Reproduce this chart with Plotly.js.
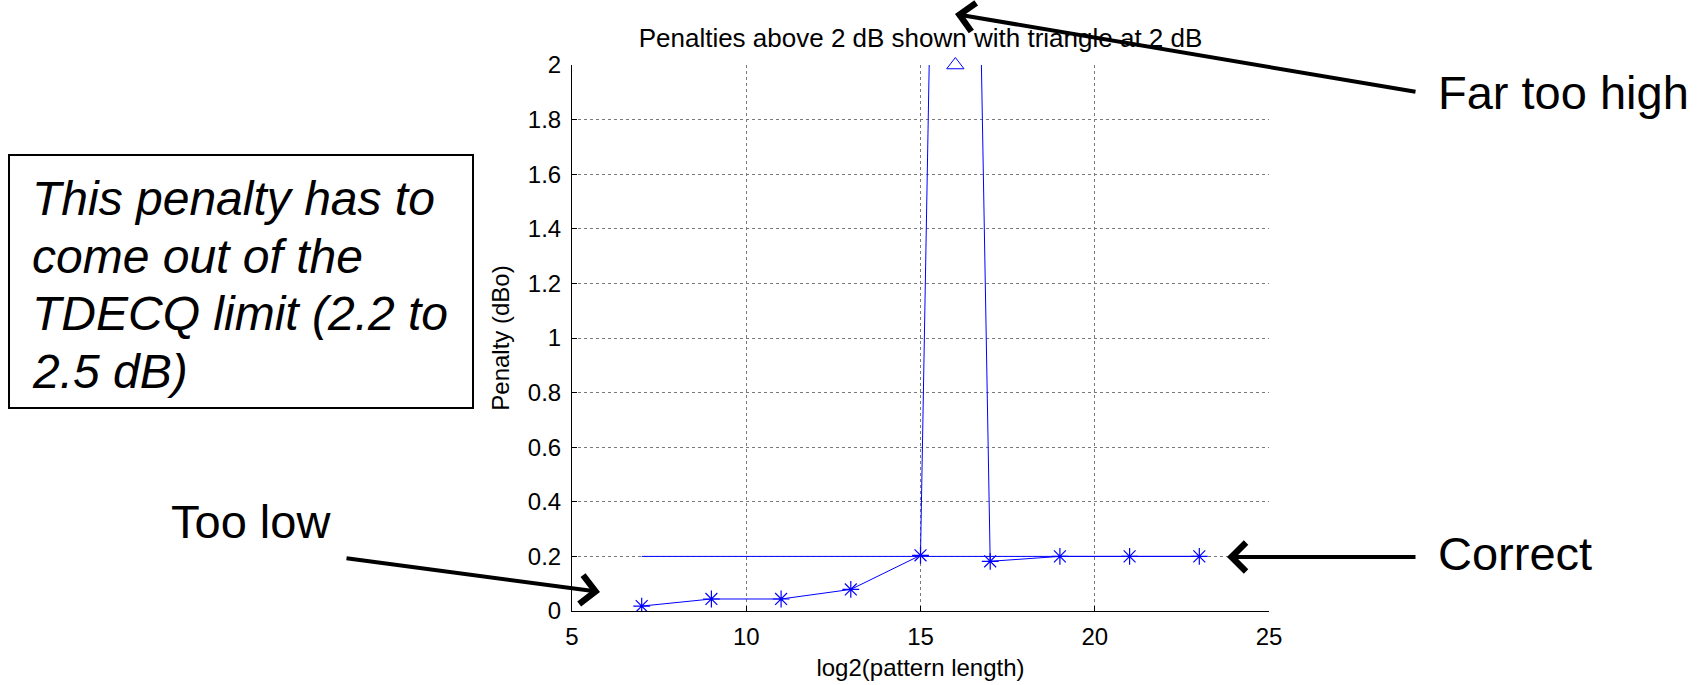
<!DOCTYPE html>
<html>
<head>
<meta charset="utf-8">
<script src="https://cdn.plot.ly/plotly-3.0.1.min.js"></script>
<style>
  html, body { margin: 0; padding: 0; background: #ffffff; }
  #chart { width: 1705px; height: 685px; }
</style>
</head>
<body>
<div id="chart"></div>
<script>
// ---- data ----
const patternLog2 = [7, 9, 11, 13, 15, 16, 17, 19, 21, 23];
const penaltyDb   = [0.018, 0.044, 0.044, 0.079, 0.204, 7.4, 0.182, 0.2, 0.2, 0.2];
const correctX    = [7, 23];
const correctY    = [0.2, 0.2];
const capDb       = 2;
const xTicks      = [5, 10, 15, 20, 25];
const yTicks      = [0, 0.2, 0.4, 0.6, 0.8, 1, 1.2, 1.4, 1.6, 1.8, 2];

// ---- layout geometry ----
const W = 1705, H = 685;
const L = 572, R = 1269, T = 65, B = 611;
const px = v => (v - L) / (R - L);
const py = v => (B - v) / (B - T);

const blue = '#0000ff';
const font = 'Liberation Sans, Arial, sans-serif';

const okX = [], okY = [], capX = [], capY = [];
patternLog2.forEach((v, i) => {
  if (penaltyDb[i] <= capDb) { okX.push(v); okY.push(penaltyDb[i]); }
  else { capX.push(v); capY.push(capDb); }
});

const traces = [
  { x: correctX, y: correctY, mode: 'lines', type: 'scatter',
    line: { color: blue, width: 1 }, hoverinfo: 'skip' },
  { x: patternLog2, y: penaltyDb, mode: 'lines', type: 'scatter',
    line: { color: blue, width: 1 } },
  { x: okX, y: okY, mode: 'markers', type: 'scatter',
    marker: { symbol: 'asterisk-open', size: 14, color: blue, line: { color: blue, width: 1.2 } } },
  { x: capX, y: capY, mode: 'markers', type: 'scatter', cliponaxis: false,
    marker: { symbol: 'triangle-up-open', size: 15, color: blue, line: { color: blue, width: 1 } } }
];

function label(text, xLeft, yMid, size, italic) {
  return { xref: 'paper', yref: 'paper', x: px(xLeft), y: py(yMid),
    xanchor: 'left', yanchor: 'middle', showarrow: false, text: text, align: 'left',
    font: { family: font, size: size, color: '#000000', style: italic ? 'italic' : 'normal' } };
}
function arrow(tipX, tipY, tailX, tailY) {
  return { xref: 'paper', yref: 'paper', x: px(tipX), y: py(tipY),
    ax: tailX - tipX, ay: tailY - tipY, axref: 'pixel', ayref: 'pixel',
    text: '', showarrow: true, arrowhead: 4, arrowsize: 1.4, arrowwidth: 4,
    arrowcolor: '#000000', standoff: 0, startstandoff: 0 };
}

const layout = {
  width: W, height: H, autosize: false,
  margin: { l: L, r: W - R, t: T, b: H - B, pad: 0 },
  paper_bgcolor: '#ffffff', plot_bgcolor: '#ffffff',
  showlegend: false,
  font: { family: font, color: '#000000' },
  title: { text: 'Penalties above 2 dB shown with triangle at 2 dB',
    font: { family: font, size: 26, color: '#000000' },
    x: px(920.5), xref: 'paper', xanchor: 'center',
    y: 1 - 38 / H, yref: 'container', yanchor: 'middle' },
  xaxis: {
    range: [5, 25], tickvals: xTicks, ticktext: xTicks.map(String),
    showgrid: true, gridcolor: '#7a7a7a', griddash: 'dot', gridwidth: 1,
    showline: true, linecolor: '#000000', linewidth: 1, mirror: false,
    ticks: 'inside', ticklen: 5, tickcolor: '#000000', tickwidth: 1,
    zeroline: false, ticklabelstandoff: 4,
    tickfont: { family: font, size: 24, color: '#000000' },
    title: { text: 'log2(pattern length)', standoff: 10,
      font: { family: font, size: 24, color: '#000000' } }
  },
  yaxis: {
    range: [0, 2], tickvals: yTicks, ticktext: yTicks.map(String),
    showgrid: true, gridcolor: '#7a7a7a', griddash: 'dot', gridwidth: 1,
    showline: true, linecolor: '#000000', linewidth: 1, mirror: false,
    ticks: 'inside', ticklen: 5, tickcolor: '#000000', tickwidth: 1,
    zeroline: false, ticklabelstandoff: 5,
    tickfont: { family: font, size: 24, color: '#000000' },
    title: { text: 'Penalty (dBo)', standoff: 11,
      font: { family: font, size: 24, color: '#000000' } }
  },
  shapes: [
    { type: 'rect', xref: 'paper', yref: 'paper',
      x0: px(9), x1: px(473), y0: py(155), y1: py(408),
      line: { color: '#000000', width: 2 }, fillcolor: 'rgba(0,0,0,0)' }
  ],
  annotations: [
    label('This penalty has to', 30, 198, 48, true),
    label('come out of the', 30, 256, 48, true),
    label('TDECQ limit (2.2 to', 30, 313, 48, true),
    label('2.5 dB)', 30, 371, 48, true),
    label('Far too high', 1436, 92, 47, false),
    label('Too low', 169, 521, 47, false),
    label('Correct', 1436, 553, 47, false),
    arrow(955, 14, 1417, 92),
    arrow(600, 592, 345, 558),
    arrow(1227, 557, 1417, 557)
  ]
};

Plotly.newPlot('chart', traces, layout, { displayModeBar: false, staticPlot: true });
</script>
</body>
</html>
